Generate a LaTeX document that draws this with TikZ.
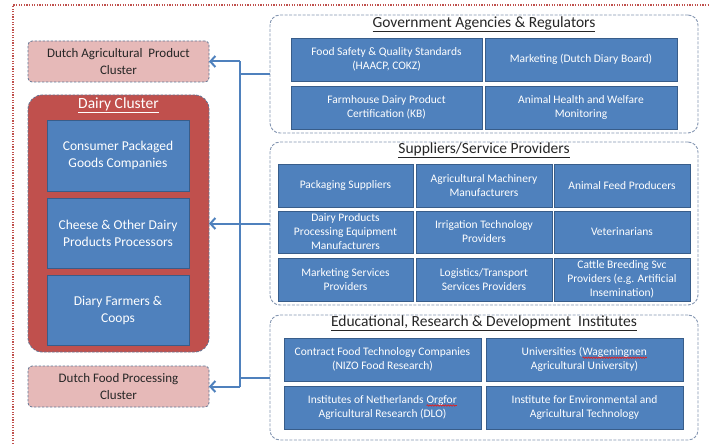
\documentclass[tikz,border=0pt]{standalone}
\usepackage{fontspec}
\setmainfont{Carlito}
\usetikzlibrary{arrows.meta, decorations.pathmorphing}

\definecolor{boxblue}{HTML}{4F81BD}
\definecolor{boxline}{HTML}{385D8A}
\definecolor{clusterred}{HTML}{C0504D}
\definecolor{clusterpink}{HTML}{E6B9B8}
\definecolor{groupline}{HTML}{8395B1}
\definecolor{edgegray}{HTML}{5F7493}
\definecolor{titlegray}{HTML}{262626}
\definecolor{spellred}{HTML}{E02020}

\newcommand{\spell}[1]{\tikz[baseline=(w.base)]{\node[inner sep=0pt, outer sep=0pt, minimum width=0pt,
    minimum height=0pt, draw=none, fill=none] (w) {#1};
  \draw[spellred, line width=0.7pt, decorate, decoration={snake, amplitude=0.7pt, segment length=2.6pt}]
    ([yshift=-2pt]w.base west) -- ([yshift=-2pt]w.base east);}}

\tikzset{
  wh/.style 2 args={minimum width=#1, minimum height=#2},
  blue box/.style={draw=boxline, line width=0.8pt, fill=boxblue, text=white,
    inner sep=0pt, outer sep=0pt, align=center, font=\fontsize{11.5}{14}\selectfont},
  big box/.style={blue box, font=\fontsize{13.5}{17}\selectfont},
  group/.style={draw=groupline, dash pattern=on 3pt off 1.5pt, line width=0.9pt,
    rounded corners=10pt, fill=white, inner sep=0pt, outer sep=0pt},
  group title/.style={text=titlegray, font=\fontsize{15.5}{17}\selectfont},
  pink box/.style={draw=edgegray, dash pattern=on 2.5pt off 1.5pt, line width=0.8pt,
    rounded corners=4pt, fill=clusterpink, text=titlegray, align=center,
    inner sep=0pt, outer sep=0pt, font=\fontsize{13}{17}\selectfont},
  wire/.style={draw=boxblue, line width=2pt},
}

\begin{document}
\begin{tikzpicture}[x=1pt, y=-1pt]
\useasboundingbox (0,0) rectangle (710,444);

% outer frame ---
\draw [clusterred, line width=1.3pt, dash pattern=on 1.3pt off 1.3pt] (13,444) -- (13,5) -- (710,5);

% left column ---
\node [pink box, wh={181pt}{41pt}] (agri) at (118.5,61.5) {Dutch Agricultural\ \ Product\\ Cluster};
\node [draw=edgegray, dash pattern=on 2.5pt off 1.5pt, line width=0.8pt, fill=clusterred,
  rounded corners=14pt, wh={181pt}{257pt}, outer sep=0pt] (dairy) at (118.5,223.5) {};
\node [text=white, font=\fontsize{15.5}{17}\selectfont] (dairytitle) at (118.5,105) {\underline{Dairy Cluster}};
\node [big box, wh={142pt}{71pt}] (consumer) at (118,155.5) {Consumer Packaged\\ Goods Companies};
\node [big box, wh={142pt}{70pt}] (cheese) at (118,233) {Cheese \& Other Dairy\\ Products Processors};
\node [big box, wh={142pt}{70pt}] (farmers) at (118,310) {Diary Farmers \&\\ Coops};
\node [pink box, wh={181pt}{41pt}] (food) at (118.5,386.5) {Dutch Food Processing\\ Cluster};

% government ---
\node [group, wh={428pt}{118pt}] (gov) at (484,74) {};
\node [group title] (govtitle) at (484,24) {\underline{Government Agencies \& Regulators}};
\node [blue box, wh={191pt}{43pt}] (safety) at (386.5,59.5) {Food Safety \& Quality Standards\\ (HAACP, COKZ)};
\node [blue box, wh={192pt}{43pt}] (board) at (581,59.5) {Marketing (Dutch Diary Board)};
\node [blue box, wh={191pt}{43pt}] (certif) at (386.5,107.5) {Farmhouse Dairy Product\\ Certification (KB)};
\node [blue box, wh={192pt}{43pt}] (welfare) at (581,107.5) {Animal Health and Welfare\\ Monitoring};

% suppliers ---
\node [group, wh={428pt}{163pt}] (sup) at (484,223.5) {};
\node [group title] (suptitle) at (484,150) {\underline{Suppliers/Service Providers}};
\node [blue box, wh={135pt}{43pt}] (pack) at (345.5,185.5) {Packaging Suppliers};
\node [blue box, wh={136pt}{43pt}] (machinery) at (484,185.5) {Agricultural Machinery\\ Manufacturers};
\node [blue box, wh={136pt}{43pt}] (feed) at (622,185.5) {Animal Feed Producers};
\node [blue box, wh={135pt}{42pt}] (equip) at (345.5,232) {Dairy Products\\ Processing Equipment\\ Manufacturers};
\node [blue box, wh={136pt}{42pt}] (irrig) at (484,232) {Irrigation Technology\\ Providers};
\node [blue box, wh={136pt}{42pt}] (vets) at (622,232) {Veterinarians};
\node [blue box, wh={135pt}{43pt}] (mkt) at (345.5,279.5) {Marketing Services\\ Providers};
\node [blue box, wh={136pt}{43pt}] (logist) at (484,279.5) {Logistics/Transport\\ Services Providers};
\node [blue box, wh={136pt}{43pt}] (breed) at (622,279.5) {Cattle Breeding Svc\\ Providers (e.g. Artificial\\ Insemination)};

% education ---
\node [group, wh={428pt}{125pt}] (edu) at (484,377.5) {};
\node [group title] (edutitle) at (484,323) {\underline{Educational, Research \& Development\ \ Institutes}};
\node [blue box, wh={197pt}{43pt}] (nizo) at (382.5,359.5) {Contract Food Technology Companies\\ (NIZO Food Research)};
\node [blue box, wh={197pt}{43pt}] (univ) at (584.5,359.5) {Universities (\spell{Wageningnen}\\ Agricultural University)};
\node [blue box, wh={197pt}{43pt}] (dlo) at (382.5,407.5) {Institutes of Netherlands \spell{Orgfor}\\ Agricultural Research (DLO)};
\node [blue box, wh={197pt}{43pt}] (envir) at (584.5,407.5) {Institute for Environmental and\\ Agricultural Technology};

% connectors ---
\coordinate (bus) at (240,0);
\draw [wire] (agri.east -| bus) -- (food.east -| bus);
\draw [wire] (gov.west) -- (gov.west -| bus);
\draw [wire] (edu.west) -- (edu.west -| bus);
\draw [wire, -{Straight Barb[length=5pt, width=11pt]}] (agri.east -| bus) -- (agri.east);
\draw [wire, -{Straight Barb[length=5pt, width=11pt]}] (sup.west) -- (dairy.east);
\draw [wire, -{Straight Barb[length=5pt, width=11pt]}] (food.east -| bus) -- (food.east);

\end{tikzpicture}
\end{document}
